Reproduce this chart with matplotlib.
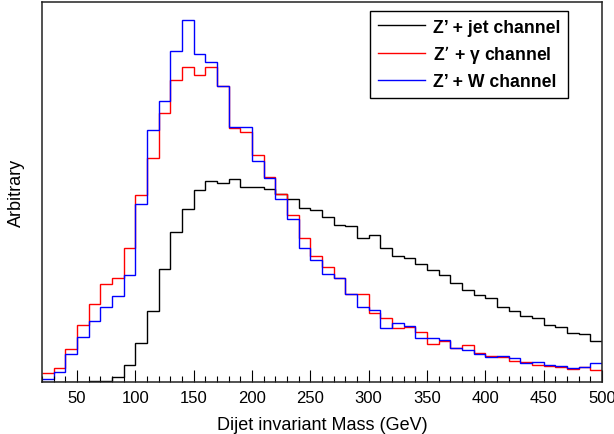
import numpy as np
import matplotlib
matplotlib.use('Agg')
import matplotlib.pyplot as plt
from matplotlib.ticker import MultipleLocator

plt.rcParams['font.family'] = ['Liberation Sans', 'DejaVu Sans']

# bin edges in GeV, 10 GeV bins from 20 to 500
edges = np.arange(20, 510, 10)

# arbitrary units
jet = [0, 0, 0, 0, 1, 1.5, 5, 17, 38.7, 71.3,
       113, 149.7, 173, 192.5, 200.7, 199.3, 202.8, 195.5, 195, 193,
       188, 183, 173.7, 172, 165.3, 156.7, 156, 143.7, 147, 134,
       125.7, 124.5, 118, 112.3, 107.3, 99.3, 91.7, 86.7, 84.3, 75.3,
       71, 66.3, 63.7, 56.7, 55, 49.2, 48, 41.3]
gamma = [8.7, 13.7, 33.3, 57, 78, 98, 104, 133.7, 186.7, 224.3,
         268.7, 302, 314.7, 307, 315, 296.3, 254, 249.7, 227.3, 205.5,
         188.3, 166.7, 143.7, 126.3, 114.7, 103.7, 88, 88, 68.7, 64,
         54, 55.3, 50.3, 38, 41, 33.7, 36.7, 29, 26.3, 25.3,
         20.7, 20.3, 17, 16, 15.5, 12.7, 14.7, 12]
wbos = [3, 10.3, 28, 45.3, 61.3, 75.3, 85.7, 106.7, 178, 252,
        280.7, 330.7, 362.3, 327.7, 319.7, 296.3, 255.3, 254.7, 221.3, 204.5,
        183, 163, 134, 122, 108, 103.7, 88, 75.3, 72.3, 54,
        58.7, 56, 44.3, 44.3, 42.3, 33.7, 32, 27.7, 24.7, 26.3,
        24, 19.3, 20, 16.7, 16, 13.7, 14.7, 18.7]

labels = ['Z\u2019 + jet channel', 'Z\u2019 + $\\mathregular{\\gamma}$ channel', 'Z\u2019 + W channel']
colors = ['black', 'red', 'blue']

fig = plt.figure(figsize=(6.14, 4.35), dpi=100)
ax = fig.add_axes([42/614, 52/435, 560/614, 380/435])

for vals, lab, c in zip([jet, gamma, wbos], labels, colors):
    ax.stairs(vals, edges, baseline=None, color=c, lw=1.0, label=lab)

ax.set_xlim(20, 500)
ax.set_ylim(0, 380)
ax.set_yticks([])
ax.xaxis.set_major_locator(MultipleLocator(50))
ax.xaxis.set_minor_locator(MultipleLocator(10))
ax.tick_params(axis='x', which='major', direction='in', length=8.5, width=0.8, labelsize=12, pad=6)
ax.tick_params(axis='x', which='minor', direction='in', length=4.3, width=0.8)
for sp in ax.spines.values():
    sp.set_linewidth(1.1)
    sp.set_color('#222222')

ax.set_xlabel('Dijet invariant Mass (GeV)', fontsize=13, labelpad=8)
ax.set_ylabel('Arbitrary', fontsize=13, labelpad=12)

leg = ax.legend(loc='upper left', bbox_to_anchor=(0.586, 0.976), borderaxespad=0,
                fancybox=False, edgecolor='black', framealpha=1,
                prop={'weight': 'bold', 'size': 12.7}, handlelength=2.7,
                handletextpad=0.45, labelspacing=0.45, borderpad=0.42)
leg.get_frame().set_linewidth(1.0)

fig.savefig('out.png', dpi=100)
